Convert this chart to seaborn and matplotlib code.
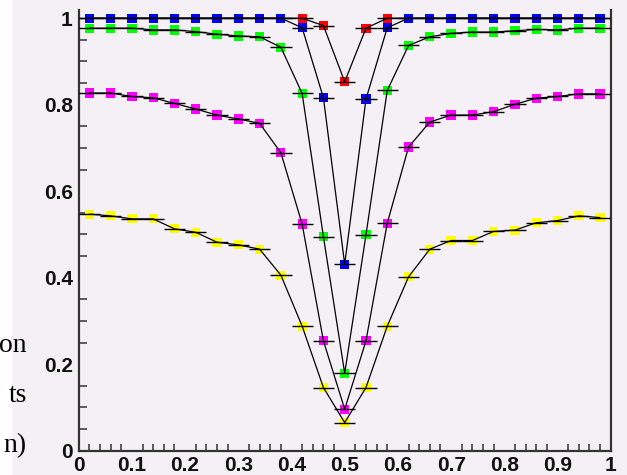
import numpy as np
import pandas as pd
import matplotlib
matplotlib.use("Agg")
import matplotlib.pyplot as plt
import seaborn as sns
from matplotlib.patches import Rectangle
from matplotlib.ticker import MultipleLocator

# ---- data ----
x = [0.02, 0.06, 0.10, 0.14, 0.18, 0.22, 0.26, 0.30, 0.34, 0.38,
     0.42, 0.46, 0.50, 0.54, 0.58,
     0.62, 0.66, 0.70, 0.74, 0.78, 0.82, 0.86, 0.90, 0.94, 0.98]
red = [1.0, 1.0, 1.0, 1.0, 1.0, 1.0, 1.0, 1.0, 1.0, 1.0,
       1.0, 0.983, 0.853, 0.977, 1.0,
       1.0, 1.0, 1.0, 1.0, 1.0, 1.0, 1.0, 1.0, 1.0, 1.0]
blue = [1.0, 1.0, 1.0, 1.0, 1.0, 1.0, 1.0, 1.0, 1.0, 1.0,
        0.978, 0.816, 0.431, 0.813, 0.978,
        1.0, 1.0, 1.0, 1.0, 1.0, 1.0, 1.0, 1.0, 1.0, 1.0]
green = [0.977, 0.977, 0.977, 0.973, 0.973, 0.969, 0.963, 0.959, 0.957, 0.933,
         0.826, 0.495, 0.179, 0.499, 0.833,
         0.937, 0.957, 0.965, 0.968, 0.968, 0.971, 0.974, 0.973, 0.977, 0.977]
magenta = [0.827, 0.827, 0.819, 0.816, 0.803, 0.790, 0.776, 0.767, 0.757, 0.689,
           0.524, 0.254, 0.096, 0.254, 0.526,
           0.702, 0.760, 0.776, 0.776, 0.784, 0.801, 0.815, 0.819, 0.825, 0.825]
yellow = [0.547, 0.543, 0.536, 0.536, 0.513, 0.505, 0.482, 0.476, 0.466, 0.406,
          0.288, 0.146, 0.065, 0.146, 0.288,
          0.402, 0.466, 0.486, 0.486, 0.507, 0.510, 0.527, 0.532, 0.543, 0.539]
xerr_half = 0.02
x_ticks = [0, 0.1, 0.2, 0.3, 0.4, 0.5, 0.6, 0.7, 0.8, 0.9, 1]
x_ticklabels = ["0", "0.1", "0.2", "0.3", "0.4", "0.5", "0.6", "0.7", "0.8", "0.9", "1"]
y_ticks = [0, 0.2, 0.4, 0.6, 0.8, 1]
y_ticklabels = ["0", "0.2", "0.4", "0.6", "0.8", "1"]
side_text = ["on", "ts", "n)"]

series = [("red", red, "#ff0000"), ("blue", blue, "#0000ff"), ("green", green, "#00ff00"),
          ("magenta", magenta, "#ff00ff"), ("yellow", yellow, "#ffff00")]

rows = []
for name, vals, col in series:
    for xi, yi in zip(x, vals):
        rows.append({"x": xi, "y": yi, "series": name})
df = pd.DataFrame(rows)
palette = {name: col for name, _, col in series}

sns.set_theme(style="white")
plt.rcParams["font.family"] = ["Liberation Sans", "DejaVu Sans"]

bg = "#f5f0f5"
fig = plt.figure(figsize=(6.27, 4.75), dpi=100, facecolor=bg)
fig.patches.append(Rectangle((0, 0), 12 / 627, 1, transform=fig.transFigure,
                             facecolor="white", edgecolor="none", zorder=0))
ax = fig.add_axes([78.7 / 627, (475 - 450.7) / 475, (610.7 - 78.7) / 627, (450.7 - 10) / 475])
ax.set_facecolor(bg)

# markers
sns.scatterplot(data=df, x="x", y="y", hue="series", palette=palette, marker="s",
                s=44, linewidth=0, legend=False, ax=ax, zorder=2)
# error bars
for name, vals, col in series:
    ax.errorbar(x, vals, xerr=xerr_half, fmt="none", ecolor="black", elinewidth=1.0,
                capsize=0, zorder=3)
# curves
sns.lineplot(data=df, x="x", y="y", units="series", estimator=None, color="black",
             linewidth=0.9, ax=ax, zorder=3, legend=False)

ax.set_xlim(0, 1)
ax.set_ylim(0, 1.019)
ax.set_xlabel("")
ax.set_ylabel("")
ax.set_xticks(x_ticks)
ax.set_xticklabels(x_ticklabels)
ax.set_yticks(y_ticks)
ax.set_yticklabels(y_ticklabels)
ax.xaxis.set_minor_locator(MultipleLocator(0.02))
ax.yaxis.set_minor_locator(MultipleLocator(0.05))
for lab in ax.get_xticklabels() + ax.get_yticklabels():
    lab.set_fontweight("bold")
    lab.set_fontsize(15)
    lab.set_color("#111111")
ax.tick_params(axis="y", which="major", direction="in", length=12, width=1.1, color="#333333", pad=4.3)
ax.tick_params(axis="y", which="minor", direction="in", length=5.8, width=1.1, color="#333333", left=True)
ax.tick_params(axis="x", which="major", direction="in", length=8.6, width=1.1, color="#333333", pad=4)
ax.tick_params(axis="x", which="minor", direction="in", length=5, width=1.1, color="#333333", bottom=True)

ax.spines["top"].set_visible(False)
for sp in ["left", "bottom", "right"]:
    ax.spines[sp].set_color("#333333")
    ax.spines[sp].set_linewidth(1.6)

for txt, base in zip(side_text, [352, 402, 452]):
    fig.text(27 / 627, (475 - base) / 475, txt, ha="right", va="baseline",
             family=["Liberation Serif", "DejaVu Serif"], fontsize=20, color="black")

fig.savefig("out.png", dpi=100, facecolor=bg)
